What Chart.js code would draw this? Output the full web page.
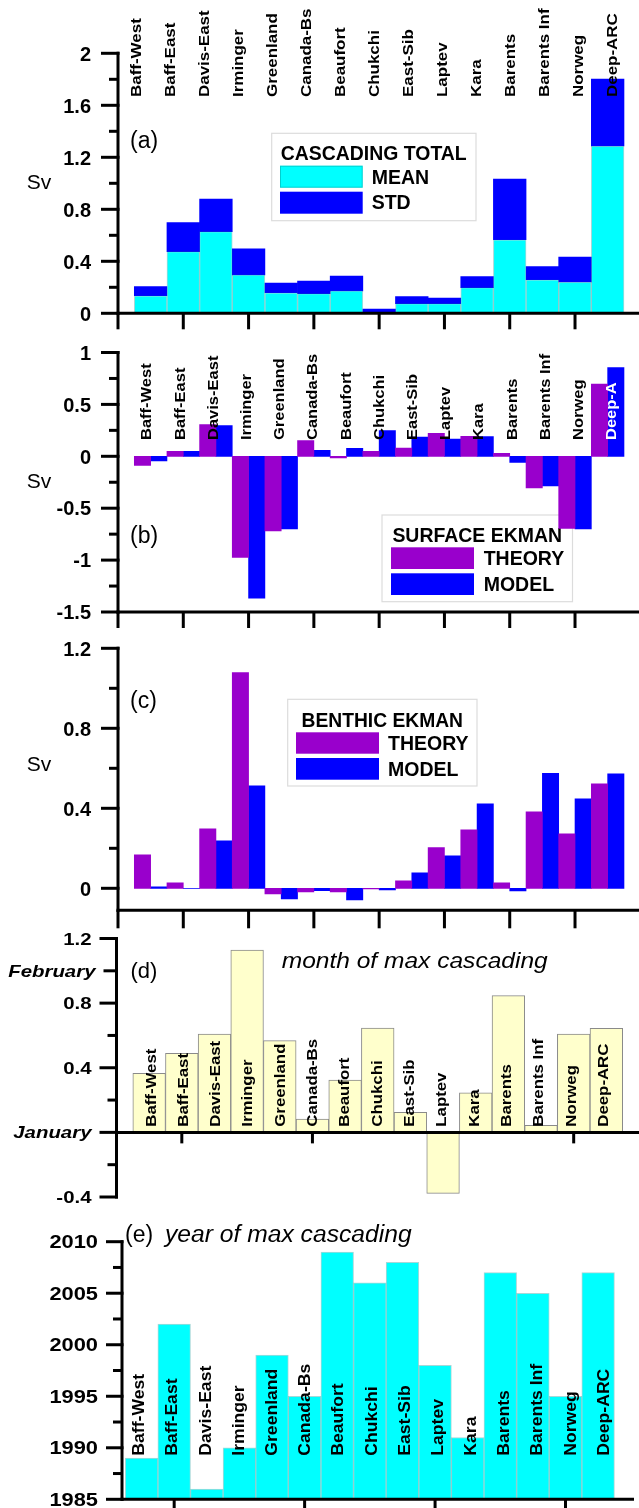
<!DOCTYPE html>
<html><head><meta charset="utf-8">
<script src="https://cdn.jsdelivr.net/npm/chart.js@4.4.1/dist/chart.umd.min.js"></script>
<style>
html,body{margin:0;padding:0;background:#fff;}
#wrap{position:relative;width:639px;height:1508px;overflow:hidden;background:#fff;}
canvas{position:absolute;left:0;top:0;width:639px;height:1508px;}
</style></head><body><div id="wrap">
<canvas id="ca" width="639" height="1508" style="width:639px;height:1508px"></canvas>
<canvas id="cb" width="639" height="1508" style="width:639px;height:1508px"></canvas>
<canvas id="cc" width="639" height="1508" style="width:639px;height:1508px"></canvas>
<canvas id="cd" width="639" height="1508" style="width:639px;height:1508px"></canvas>
<canvas id="ce" width="639" height="1508" style="width:639px;height:1508px"></canvas>
</div>
<script>
// ---------------- DATA ----------------
const categories = ['Baff-West','Baff-East','Davis-East','Irminger','Greenland','Canada-Bs','Beaufort','Chukchi','East-Sib','Laptev','Kara','Barents','Barents Inf','Norweg','Deep-ARC'];
const cascadeMean = [0.135,0.474,0.628,0.295,0.158,0.151,0.172,0.005,0.074,0.074,0.197,0.566,0.258,0.241,1.287];
const cascadeStd  = [0.070,0.223,0.251,0.200,0.075,0.097,0.115,0.028,0.054,0.044,0.085,0.467,0.101,0.192,0.515];
const surfTheory  = [-0.087,0.048,0.305,-0.974,-0.720,0.151,-0.016,0.048,0.080,0.222,0.193,0.029,-0.305,-0.695,0.695];
const surfModel   = [-0.045,0.048,0.296,-1.367,-0.700,0.058,0.077,0.248,0.186,0.167,0.190,-0.058,-0.286,-0.700,0.855];
const benthTheory = [0.167,0.027,0.297,1.078,-0.028,-0.018,-0.018,-0.003,0.037,0.203,0.292,0.027,0.382,0.272,0.522];
const benthModel  = [0.007,0.000,0.237,0.512,-0.053,-0.012,-0.058,-0.008,0.077,0.162,0.422,-0.013,0.575,0.447,0.572];
const monthMax    = [0.365,0.489,0.609,1.129,0.568,0.083,0.324,0.646,0.124,-0.378,0.244,0.846,0.043,0.609,0.644];
const yearMax     = [1989,2002,1986,1990,1999,1995,2009,2006,2008,1998,1991,2007,2005,1995,2007];

const legendTitles = ['CASCADING TOTAL','SURFACE EKMAN','BENTHIC EKMAN'];
const seriesA = ['MEAN','STD'];
const seriesEk = ['THEORY','MODEL'];

const ticksA = [0,0.4,0.8,1.2,1.6,2],        minorA = [0.2,0.6,1,1.4,1.8];
const ticksB = [1,0.5,0,-0.5,-1,-1.5],       minorB = [0.75,0.25,-0.25,-0.75,-1.25];
const ticksC = [0,0.4,0.8,1.2],              minorC = [0.2,0.6,1.0];
const ticksD = [1.2,1.0,0.8,0.4,0,-0.4],     minorD = [0.6,0.2,-0.2];
const tickLabelsD = ['1.2','February','0.8','0.4','January','-0.4'];
const ticksE = [1985,1990,1995,2000,2005,2010], minorE = [1987.5,1992.5,1997.5,2002.5,2007.5];
const xTicksABC = [0,2,4,6,8,10,12,14];
const xTicksDE = [2,6,10,14];

const panelTitles = ['(a)','(b)','(c)','(d)','(e)'];
const titleD = 'month of max cascading';
const titleE = 'year of max cascading';
const unitLabel = 'Sv';

// ---------------- STYLE ----------------
const W = 639, H = 1508;
const FONT = '"Liberation Sans", Arial, Helvetica, sans-serif';
const CYAN = '#00FFFF', BLUE = '#0000FF', PURPLE = '#9900CC', PALE = '#FFFFCC';

const pts = arr => arr.map((v, i) => ({x: i + 1, y: v}));

function line(ctx, x1, y1, x2, y2) { ctx.beginPath(); ctx.moveTo(x1, y1); ctx.lineTo(x2, y2); ctx.stroke(); }

function txt(ctx, s, x, y, o) {
  ctx.save();
  ctx.font = (o.style || 'normal') + ' ' + (o.weight || 'normal') + ' ' + o.size + 'px ' + FONT;
  ctx.fillStyle = o.color || '#000';
  ctx.textBaseline = 'alphabetic';
  ctx.textAlign = 'left';
  const w = ctx.measureText(s).width;
  let sx = o.sx || 1;
  if (o.width) sx = o.width / w;
  ctx.translate(x, y);
  if (o.rot) ctx.rotate(o.rot);
  ctx.scale(sx, 1);
  let dx = 0;
  if (o.align === 'right') dx = -w; else if (o.align === 'center') dx = -w / 2;
  ctx.fillText(s, dx, 0);
  ctx.restore();
}

function drawYAxis(chart, A) {
  const ctx = chart.ctx, ys = chart.scales.y, ca = chart.chartArea;
  const ax = ca.left;
  ctx.save(); ctx.strokeStyle = '#000'; ctx.lineWidth = 3;
  line(ctx, ax, ca.top - 1.5, ax, ca.bottom + 1.5);
  A.major.forEach((v, i) => {
    const y = ys.getPixelForValue(v);
    const len = A.lens ? A.lens[i] : A.majorLen;
    line(ctx, ax - len, y, ax + 1.5, y);
    const lab = A.labels[i];
    const italic = isNaN(Number(lab));
    txt(ctx, lab, ax - len - A.gap, y + 0.36 * A.size, {size: A.size, weight: 'bold', style: italic ? 'italic' : 'normal', align: 'right', sx: A.sx || 1});
  });
  A.minor.forEach(v => { const y = ys.getPixelForValue(v); line(ctx, ax - A.minorLen, y, ax, y); });
  ctx.restore();
}

function xAxisY(chart, X) {
  return X.atZero ? chart.scales.y.getPixelForValue(0) : chart.chartArea.bottom;
}
function drawXTicks(chart, X) {
  const ctx = chart.ctx, xs = chart.scales.x, y = xAxisY(chart, X);
  ctx.save(); ctx.strokeStyle = '#000'; ctx.lineWidth = 3;
  X.ticks.forEach(v => { const x = xs.getPixelForValue(v); line(ctx, x, y, x, y + X.len); });
  ctx.restore();
}
function drawXLine(chart, X) {
  const ctx = chart.ctx, ca = chart.chartArea, y = xAxisY(chart, X);
  ctx.save(); ctx.strokeStyle = '#000'; ctx.lineWidth = 3;
  line(ctx, ca.left - 1.5, y, ca.right, y);
  ctx.restore();
}

function drawCats(chart, C) {
  const ctx = chart.ctx, xs = chart.scales.x;
  C.names.forEach((s, i) => {
    const xc = xs.getPixelForValue(C.v0 + C.step * i);
    txt(ctx, s, xc + 0.358 * C.size, C.bottom, {size: C.size, weight: 'bold', rot: -Math.PI / 2, sx: C.sx, color: (C.colors && C.colors[i]) || '#000'});
  });
}

function drawLegend(chart, L) {
  const ctx = chart.ctx;
  ctx.save();
  const [x0, y0, x1, y1] = L.box;
  ctx.fillStyle = '#fff'; ctx.fillRect(x0, y0, x1 - x0, y1 - y0);
  ctx.strokeStyle = '#dcdcdc'; ctx.lineWidth = 1.2; ctx.strokeRect(x0, y0, x1 - x0, y1 - y0);
  txt(ctx, L.title, L.tx, L.ty, {size: 19.5, weight: 'bold', width: L.tw});
  chart.data.datasets.forEach((ds, i) => {
    const it = L.items[i];
    ctx.fillStyle = ds.backgroundColor;
    ctx.fillRect(it.sw[0], it.sw[1], it.sw[2] - it.sw[0], it.sw[3] - it.sw[1]);
    if (ds.backgroundColor === CYAN) { ctx.strokeStyle = 'rgba(0,150,150,0.45)'; ctx.lineWidth = 1; ctx.strokeRect(it.sw[0]+0.5, it.sw[1]+0.5, it.sw[2]-it.sw[0]-1, it.sw[3]-it.sw[1]-1); }
    txt(ctx, ds.label, it.x, it.y, {size: 19.5, weight: 'bold'});
  });
  ctx.restore();
}

function decor(cfg) {
  return {
    id: 'decor',
    beforeDatasetsDraw(chart) {
      if (cfg.legend) drawLegend(chart, cfg.legend);
      if (cfg.ticksBehind) drawXTicks(chart, cfg.xAxis);
    },
    afterDatasetsDraw(chart) {
      if (!cfg.ticksBehind) drawXTicks(chart, cfg.xAxis);
      drawXLine(chart, cfg.xAxis);
      drawYAxis(chart, cfg.yAxis);
      if (cfg.cats) drawCats(chart, cfg.cats);
      (cfg.texts || []).forEach(t => txt(chart.ctx, t.s, t.x, t.y, t));
    }
  };
}

function opts(area, xr, yr, xt, yt, stacked) {
  return {
    responsive: false, maintainAspectRatio: false, animation: false, devicePixelRatio: 1, events: [],
    layout: {padding: {left: area.l, right: W - area.r, top: area.t, bottom: H - area.b}},
    plugins: {legend: {display: false}, tooltip: {enabled: false}, title: {display: false}},
    scales: {
      x: {type: 'linear', display: false, offset: false, grid: {offset: false}, min: xr[0], max: xr[1], stacked: !!stacked,
          afterBuildTicks: s => { s.ticks = xt.map(v => ({value: v})); }},
      y: {type: 'linear', display: false, offset: false, beginAtZero: false, min: yr[0], max: yr[1], stacked: !!stacked,
          afterBuildTicks: s => { s.ticks = yt.map(v => ({value: v})); }}
    }
  };
}
const barDs = (label, data, color, extra) => Object.assign({label, data: pts(data), backgroundColor: color, borderWidth: 0, categoryPercentage: 1, barPercentage: 1}, extra || {});
const cyanEdge = {borderColor: 'rgba(0,140,140,0.35)', borderWidth: 1};

// ---------------- (a) ----------------
new Chart(document.getElementById('ca'), {
  type: 'bar',
  data: {datasets: [barDs(seriesA[0], cascadeMean, CYAN, cyanEdge), barDs(seriesA[1], cascadeStd, BLUE)]},
  options: opts({l: 118, r: 639, t: 53.3, b: 313.3}, [0, 15.96], [0, 2], xTicksABC, ticksA, true),
  plugins: [decor({
    xAxis: {ticks: xTicksABC, len: 16},
    yAxis: {major: ticksA, labels: ticksA.map(String), minor: minorA, majorLen: 17, minorLen: 9, gap: 10, size: 20},
    cats: {names: categories, v0: 0.53, step: 1.043, bottom: 97, size: 15, sx: 1.13},
    legend: {box: [271.7, 133.3, 476, 220.7], title: legendTitles[0], tx: 280.7, ty: 160, tw: 186,
      items: [{sw: [280, 165.7, 362.7, 187.7], x: 371.7, y: 184}, {sw: [280, 191.7, 362.7, 213.7], x: 371.7, y: 208.5}]},
    texts: [{s: panelTitles[0], x: 130, y: 147.7, size: 23}, {s: unitLabel, x: 39, y: 189.2, size: 21, align: 'center'}]
  })]
});

// ---------------- (b) ----------------
new Chart(document.getElementById('cb'), {
  type: 'bar',
  data: {datasets: [barDs(seriesEk[0], surfTheory, PURPLE), barDs(seriesEk[1], surfModel, BLUE)]},
  options: opts({l: 118, r: 639, t: 352.5, b: 612}, [0, 15.96], [-1.5, 1], xTicksABC, ticksB, false),
  plugins: [decor({
    xAxis: {ticks: xTicksABC, len: 16},
    yAxis: {major: ticksB, labels: ticksB.map(String), minor: minorB, majorLen: 17, minorLen: 9, gap: 10, size: 20},
    cats: {names: categories.map((c, i) => i === 14 ? c.slice(0, 6) : c), colors: categories.map((c, i) => i === 14 ? '#fff' : '#000'),
      v0: 0.858, step: 1.017, bottom: 440, size: 15, sx: 1.1},
    legend: {box: [382, 515, 572.5, 601.7], title: legendTitles[1], tx: 392.4, ty: 542, tw: 169.6,
      items: [{sw: [391, 547.3, 474, 569], x: 483.7, y: 565.3}, {sw: [391, 573.3, 474, 595], x: 483.7, y: 591}]},
    texts: [{s: panelTitles[1], x: 130, y: 542.7, size: 23}, {s: unitLabel, x: 39, y: 488.2, size: 21, align: 'center'}]
  })]
});

// ---------------- (c) ----------------
new Chart(document.getElementById('cc'), {
  type: 'bar',
  data: {datasets: [barDs(seriesEk[0], benthTheory, PURPLE), barDs(seriesEk[1], benthModel, BLUE)]},
  options: opts({l: 118, r: 639, t: 648.3, b: 910.3}, [0, 15.96], [-0.11, 1.2], xTicksABC, ticksC, false),
  plugins: [decor({
    xAxis: {ticks: xTicksABC, len: 18},
    yAxis: {major: ticksC, labels: ticksC.map(String), minor: minorC, majorLen: 17, minorLen: 9, gap: 10, size: 20},
    legend: {box: [287.7, 699.3, 477, 786], title: legendTitles[2], tx: 301.5, ty: 726.7, tw: 161.5,
      items: [{sw: [296, 732.3, 379, 753.7], x: 388, y: 750.3}, {sw: [296, 758, 379, 779.7], x: 388, y: 776}]},
    texts: [{s: panelTitles[2], x: 130, y: 707.7, size: 23}, {s: unitLabel, x: 39, y: 770.8, size: 21, align: 'center'}]
  })]
});

// ---------------- (d) ----------------
new Chart(document.getElementById('cd'), {
  type: 'bar',
  data: {datasets: [barDs('month', monthMax, PALE, {borderColor: '#8a8a8a', borderWidth: 1, borderSkipped: false})]},
  options: opts({l: 116.5, r: 639, t: 938.5, b: 1197}, [0, 16], [-0.4, 1.2], xTicksDE, ticksD, false),
  plugins: [decor({
    ticksBehind: true,
    xAxis: {ticks: xTicksDE, len: 11, atZero: true},
    yAxis: {major: ticksD, labels: tickLabelsD, lens: [17, 13, 17, 17, 17, 17], minor: minorD, minorLen: 9, gap: 8, size: 17, sx: 1.2},
    cats: {names: categories, v0: 1.03, step: 0.99, bottom: 1126.7, size: 15, sx: 1.12},
    texts: [{s: panelTitles[3], x: 130.4, y: 978, size: 22},
            {s: titleD, x: 281.7, y: 968.3, size: 22, style: 'italic', width: 266}]
  })]
});

// ---------------- (e) ----------------
new Chart(document.getElementById('ce'), {
  type: 'bar',
  data: {datasets: [barDs('year', yearMax, CYAN, cyanEdge)]},
  options: opts({l: 122, r: 634, t: 1241.7, b: 1499.3}, [0.4, 16.1], [1985, 2010], xTicksDE, ticksE, false),
  plugins: [decor({
    xAxis: {ticks: xTicksDE, len: 10},
    yAxis: {major: ticksE, labels: ticksE.map(String), minor: minorE, majorLen: 16, minorLen: 9, gap: 8, size: 18.5, sx: 1.18},
    cats: {names: categories, v0: 0.906, step: 1.0175, bottom: 1455.7, size: 16, sx: 1.1},
    texts: [{s: panelTitles[4], x: 125, y: 1242, size: 23},
            {s: titleE, x: 165, y: 1242, size: 23, style: 'italic', width: 246.6}]
  })]
});
</script></body></html>
